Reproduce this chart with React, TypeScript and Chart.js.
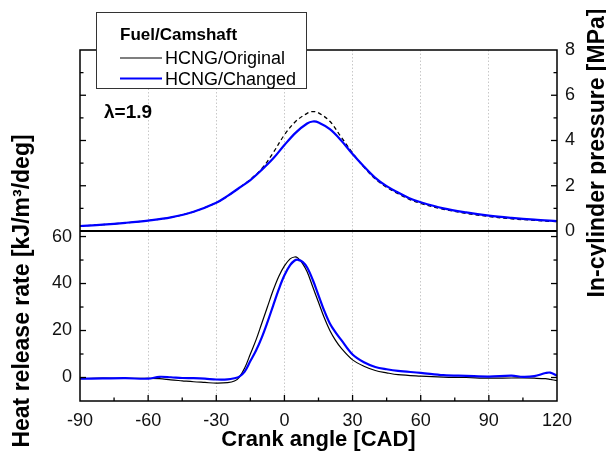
import React, { useEffect, useRef } from "react";
import { Chart, registerables } from "chart.js";
Chart.register(...registerables);

const FONT = "'Liberation Sans', Arial, Helvetica, sans-serif";

const crankTicks = [-90, -60, -30, 0, 30, 60, 90, 120];
const hrrTicks = [0, 20, 40, 60];
const pressureTicks = [0, 2, 4, 6, 8];

const seriesNames = ["HCNG/Original", "HCNG/Changed"];
const legendTitle = "Fuel/Camshaft";
const lambdaLabel = "λ=1.9";
const xTitle = "Crank angle [CAD]";
const leftTitle = "Heat release rate [kJ/m³/deg]";
const rightTitle = "In-cylinder pressure [MPa]";

const pressureAngles = [-90, -80, -70, -60, -50, -40, -30, -25, -20, -15, -10, -5, 0, 5, 10, 12.5, 15, 20, 25, 30, 35, 40, 45, 50, 55, 60, 70, 80, 90, 100, 110, 120];
const pressureOriginal = [0.22, 0.28, 0.36, 0.46, 0.6, 0.85, 1.25, 1.55, 1.9, 2.28, 2.75, 3.45, 4.25, 4.85, 5.2, 5.28, 5.22, 4.85, 4.15, 3.45, 2.82, 2.3, 1.93, 1.65, 1.4, 1.22, 0.96, 0.78, 0.64, 0.54, 0.47, 0.41];
const pressureChanged = [0.22, 0.28, 0.36, 0.46, 0.6, 0.85, 1.25, 1.55, 1.9, 2.25, 2.7, 3.2, 3.8, 4.35, 4.75, 4.84, 4.8, 4.5, 4.0, 3.4, 2.85, 2.35, 1.98, 1.7, 1.45, 1.27, 1.0, 0.82, 0.68, 0.58, 0.5, 0.44];

const hrrAngles = [-90, -80, -70, -60, -55, -50, -45, -40, -35, -30, -25, -22, -20, -17.5, -15, -12.5, -10, -7.5, -5, -2.5, 0, 2.5, 4.5, 6, 8, 10, 12.5, 15, 17.5, 20, 22.5, 25, 30, 35, 40, 45, 50, 60, 70, 80, 90, 100, 105, 110, 115, 117, 120];
const hrrOriginal = [-0.5, -0.3, -0.4, -0.4, -0.5, -1.0, -1.4, -1.8, -2.1, -2.4, -2.2, -1.5, 0, 4, 10, 16, 23, 30, 37, 43, 47.5, 50.5, 51.3, 50.8, 48.5, 45, 38.5, 32, 25.5, 20, 15.8, 12.5, 7.5, 4.8, 3, 2, 1.2, 0.6, 0.2, 0, -0.3, -0.2, -0.2, -0.3, -0.5, -0.8, -1.3];
const hrrChanged = [-0.5, -0.4, -0.3, -0.5, 0.3, 0.1, -0.2, -0.3, -0.5, -0.85, -0.8, -0.3, 0.3, 2.5, 7, 11.5, 17, 23.5, 30.5, 37.5, 43.5, 47.8, 49.8, 50.1, 49.2, 46.8, 41.5, 35, 28.5, 23, 19.2, 16, 9.8, 6.5, 4.5, 3.5, 2.8, 2, 1, 0.7, 0.4, 0.8, 0.3, 0.6, 1.9, 2.1, 0.8];

const toPoints = (xs: number[], ys: number[]) => xs.map((x, i) => ({ x, y: ys[i] }));
const mids = (t: number[]) => t.slice(0, -1).map((v, i) => (v + t[i + 1]) / 2);

const decor = {
  id: "decor",
  afterDraw(chart: any) {
    const { ctx, chartArea: a, scales } = chart;
    const sx = scales.x, sh = scales.yH, sp = scales.yP;
    ctx.save();
    const line = (x1: number, y1: number, x2: number, y2: number) => {
      ctx.beginPath(); ctx.moveTo(x1, y1); ctx.lineTo(x2, y2); ctx.stroke();
    };
    ctx.strokeStyle = "#000";
    ctx.lineWidth = 1.3;
    crankTicks.slice(1, -1).forEach((v) => { const p = sx.getPixelForValue(v); line(p, a.bottom, p, a.bottom - 6); });
    mids(crankTicks).forEach((v) => { const p = sx.getPixelForValue(v); line(p, a.bottom, p, a.bottom - 3.5); });
    const ySep = sp.getPixelForValue(0);
    hrrTicks.forEach((v) => {
      const p = sh.getPixelForValue(v);
      if (p >= ySep + 1) { line(a.left, p, a.left + 6, p); line(a.right, p, a.right - 6, p); }
    });
    mids(hrrTicks).forEach((v) => {
      const p = sh.getPixelForValue(v);
      line(a.left, p, a.left + 3.5, p); line(a.right, p, a.right - 3.5, p);
    });
    pressureTicks.slice(1, -1).forEach((v) => {
      const p = sp.getPixelForValue(v);
      line(a.left, p, a.left + 6, p); line(a.right, p, a.right - 6, p);
    });
    mids(pressureTicks).forEach((v) => {
      const p = sp.getPixelForValue(v);
      line(a.left, p, a.left + 3.5, p); line(a.right, p, a.right - 3.5, p);
    });
    ctx.lineWidth = 1.5;
    ctx.strokeRect(a.left, a.top, a.right - a.left, a.bottom - a.top);
    ctx.lineWidth = 2;
    line(a.left, ySep, a.right, ySep);

    ctx.fillStyle = "#fff";
    ctx.fillRect(96, 12, 211, 77);
    ctx.strokeStyle = "#333";
    ctx.lineWidth = 1;
    ctx.strokeRect(96.5, 12.5, 210, 76);
    ctx.fillStyle = "#000";
    ctx.textBaseline = "alphabetic";
    ctx.textAlign = "left";
    ctx.font = `bold 17px ${FONT}`;
    ctx.fillText(legendTitle, 120, 40);
    ctx.font = `18px ${FONT}`;
    ctx.fillText(seriesNames[0], 165, 64);
    ctx.fillText(seriesNames[1], 165, 85);
    ctx.strokeStyle = "#000"; ctx.lineWidth = 1.2;
    line(120, 58, 162, 58);
    ctx.strokeStyle = "#0000ff"; ctx.lineWidth = 2;
    line(120, 78.5, 162, 78.5);

    ctx.fillStyle = "#000";
    ctx.font = `bold 19px ${FONT}`;
    ctx.fillText(lambdaLabel, 104, 118);

    ctx.textAlign = "center";
    ctx.font = `bold 22px ${FONT}`;
    ctx.fillText(xTitle, (a.left + a.right) / 2, 446);
    ctx.font = `bold 23px ${FONT}`;
    ctx.save();
    ctx.translate(29, 291);
    ctx.rotate(-Math.PI / 2);
    ctx.fillText(leftTitle, 0, 0);
    ctx.restore();
    ctx.save();
    ctx.translate(604, 153);
    ctx.rotate(-Math.PI / 2);
    ctx.fillText(rightTitle, 0, 0);
    ctx.restore();
    ctx.restore();
  },
};

export default function App() {
  const ref = useRef<HTMLCanvasElement | null>(null);
  useEffect(() => {
    if (!ref.current) return;
    Chart.defaults.font.family = FONT;
    const tickFont = { size: 18, family: FONT };
    const chart = new Chart(ref.current, {
      type: "line",
      data: {
        datasets: [
          { label: seriesNames[1] + " P", data: toPoints(pressureAngles, pressureChanged), yAxisID: "yP", borderColor: "#0000ff", borderWidth: 2.2, order: 1 },
          { label: seriesNames[0] + " P", data: toPoints(pressureAngles, pressureOriginal), yAxisID: "yP", borderColor: "#000", borderWidth: 1.3, borderDash: [4, 3], order: 2 },
          { label: seriesNames[1], data: toPoints(hrrAngles, hrrChanged), yAxisID: "yH", borderColor: "#0000ff", borderWidth: 2.2, order: 1 },
          { label: seriesNames[0], data: toPoints(hrrAngles, hrrOriginal), yAxisID: "yH", borderColor: "#000", borderWidth: 1.2, order: 2 },
        ],
      },
      options: {
        animation: false,
        responsive: true,
        maintainAspectRatio: false,
        devicePixelRatio: 1,
        layout: { padding: { top: 50, left: 0, right: 0, bottom: 0 } },
        elements: { point: { radius: 0 }, line: { tension: 0.35, fill: false } },
        plugins: { legend: { display: false }, tooltip: { enabled: false } },
        scales: {
          x: {
            type: "linear",
            min: -90,
            max: 120,
            afterBuildTicks: (s: any) => { s.ticks = crankTicks.map((v) => ({ value: v })); },
            afterFit: (s: any) => { s.height = 55; },
            ticks: { font: tickFont, color: "#111", padding: 9, maxRotation: 0 },
            grid: {
              drawTicks: false,
              lineWidth: 1,
              color: (c: any) => (c.tick && (c.tick.value === -90 || c.tick.value === 120) ? "rgba(0,0,0,0)" : "#c8c8c8"),
            },
            border: { display: false, dash: [1.5, 2] },
          },
          yH: {
            type: "linear",
            position: "left",
            min: -10,
            max: 139.4,
            afterBuildTicks: (s: any) => { s.ticks = hrrTicks.map((v) => ({ value: v })); },
            afterFit: (s: any) => { s.width = 80; },
            ticks: { font: tickFont, color: "#111", padding: 8 },
            grid: { display: false, drawTicks: false },
            border: { display: false },
          },
          yP: {
            type: "linear",
            position: "right",
            min: -7.514,
            max: 8,
            afterBuildTicks: (s: any) => { s.ticks = pressureTicks.map((v) => ({ value: v })); },
            afterFit: (s: any) => { s.width = 49; },
            ticks: { font: tickFont, color: "#111", padding: 8 },
            grid: { display: false, drawTicks: false },
            border: { display: false },
          },
        },
      },
      plugins: [decor],
    } as any);
    return () => chart.destroy();
  }, []);
  return (
    <div style={{ position: "absolute", left: 0, top: 0, width: 606, height: 456, background: "#fff" }}>
      <canvas ref={ref} />
    </div>
  );
}
